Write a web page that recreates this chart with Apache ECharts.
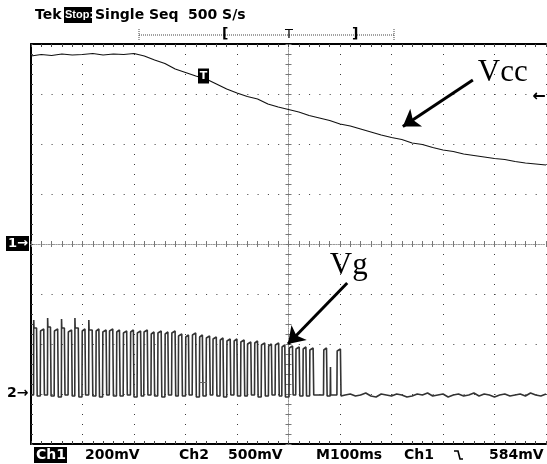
<!DOCTYPE html>
<html><head><meta charset="utf-8">
<script src="https://cdn.jsdelivr.net/npm/echarts@6/dist/echarts.min.js"></script>
<style>html,body{margin:0;padding:0;background:#fff;}#c{width:547px;height:464px;}</style>
</head><body><div id="c"></div>
<script>
// ---- Ch1 (Vcc), time in ms relative to screen centre, value in mV relative to Ch1 ground ----
const vccTime = [-500,-480,-460,-440,-420,-400,-380,-360,-340,-320,-300,-280,-260,-240,-220,-200,-180,-160,-140,-120,-100,-80,-60,-40,-20,0,20,40,60,80,100,120,140,160,180,200,220,240,260,280,300,320,340,360,380,400,420,440,460,480,500];
const vccMv   = [752,758,754,760,756,758,762,756,760,758,762,752,736,722,700,686,672,660,640,620,604,590,580,560,548,538,528,514,504,494,480,472,460,448,436,426,418,404,398,386,376,370,360,354,348,342,338,330,324,320,316];

// ---- Ch2 (Vg) gate pulses: rising time, falling time, top level, overshoot, low level after (mV) ----
const pulseOn    = [-495,-482,-468,-455,-441,-428,-415,-401,-388,-374,-361,-348,-334,-321,-307,-294,-281,-267,-254,-240,-227,-214,-200,-187,-173,-160,-147,-133,-120,-106,-93,-80,-66,-53,-39,-26,-13,1,14,28,41,68,81,94];
const pulseOff   = [-488,-474,-461,-447,-434,-420,-407,-394,-380,-367,-353,-340,-327,-313,-300,-286,-273,-260,-246,-233,-219,-206,-193,-179,-166,-152,-139,-126,-112,-99,-85,-72,-59,-45,-32,-18,-6,9,22,35,49,75,82,102];
const pulseTop   = [660,650,670,650,660,640,660,650,640,650,640,650,640,630,640,630,640,620,630,620,630,600,590,610,590,580,570,560,550,550,540,520,530,510,500,510,490,480,470,470,460,460,290,450];
const pulseSpike = [740,null,760,null,750,null,760,null,740,null,null,null,null,null,null,null,null,null,null,null,null,null,null,null,null,null,null,null,null,null,null,null,null,null,null,null,null,null,null,null,null,null,null,null];
const pulseLow   = [-20,-10,-20,-30,-10,-20,-30,-10,-20,-30,-10,-20,-20,-10,-30,-20,-10,-20,-30,-10,-20,-20,-10,-30,-20,-10,-20,-30,-10,-20,-20,-10,-30,-20,-10,-20,-30,-10,-20,-20,-10,-20,-10,-20];
const tailTime   = [110,120,130,140,150,160,170,180,190,200,210,220,230,240,250,260,270,280,290,300,310,320,330,340,350,360,370,380,390,400,410,420,430,440,450,460,470,480,490,500];
const tailMv     = [-10,0,-20,-10,10,-20,-30,0,-10,-20,0,-10,-30,-20,0,-10,10,-20,-10,0,-30,-10,0,-20,-10,10,-20,0,-10,-30,-10,0,-20,-10,0,-20,10,-10,-20,0];

// ---- annotations (data coordinates) ----
const vccArrow = [[358, 656], [222, 470]];
const vgArrow  = [[114, 1110], [-1, 500]];
const vccLabelAt = [416, 684];
const vgLabelAt  = [117, 1280];
const trigAt     = [-165, 672];
const trigLevelMv = 584;

const vcc = vccTime.map((t, i) => [t, vccMv[i]]);
const vg = [[-500, -10]];
for (let i = 0; i < pulseOn.length; i++) {
  const s = pulseOn[i], e = pulseOff[i], top = pulseTop[i];
  const prevLow = i === 0 ? -10 : pulseLow[i - 1];
  vg.push([s, prevLow]);
  if (pulseSpike[i] != null) { vg.push([s + 0.3, pulseSpike[i]]); vg.push([s + 0.8, top]); }
  else { vg.push([s + 0.5, top - 20]); vg.push([s + 1.2, top]); }
  vg.push([e - 1.2, top]);
  vg.push([e - 0.5, top - 20]);
  vg.push([e, pulseLow[i]]);
}
tailTime.forEach((t, i) => vg.push([t, tailMv[i]]));

const FONT = '"DejaVu Sans"';
const TXT = 'bold 14px ' + FONT;
function borderX(pos, split) {
  return {type: 'value', min: -500, max: 500, interval: 100, position: pos,
    axisLine: {show: true, onZero: false, lineStyle: {color: '#000', width: 2}},
    axisTick: {show: true, inside: true, length: 3, lineStyle: {color: '#444'}},
    minorTick: {show: true, splitNumber: 5, length: 3, lineStyle: {color: '#444'}},
    axisLabel: {show: false},
    splitLine: {show: split, lineStyle: {color: '#3a3a3a', width: 1, type: [1, 9]}}};
}
function centerX(pos) {
  return {type: 'value', min: -500, max: 500, interval: 100, position: pos,
    axisLine: {show: true, onZero: true, onZeroAxisIndex: 0, lineStyle: {color: '#999', width: 1, type: [1, 1.5]}},
    axisTick: {show: true, length: 3, lineStyle: {color: '#777'}},
    minorTick: {show: true, splitNumber: 5, length: 3, lineStyle: {color: '#777'}},
    axisLabel: {show: false}, splitLine: {show: false}};
}
function centerY(pos) {
  return {type: 'value', min: -4, max: 4, interval: 1, position: pos,
    axisLine: {show: true, onZero: true, onZeroAxisIndex: 0, lineStyle: {color: '#999', width: 1, type: [1, 1.5]}},
    axisTick: {show: true, length: 3, lineStyle: {color: '#777'}},
    minorTick: {show: true, splitNumber: 5, length: 3, lineStyle: {color: '#777'}},
    axisLabel: {show: false}, splitLine: {show: false}};
}

const chart = echarts.init(document.getElementById('c'), null, {renderer: 'canvas'});
chart.setOption({
  animation: false,
  backgroundColor: '#fff',
  grid: {left: 31, top: 44, width: 515, height: 400, outerBoundsMode: 'none', containLabel: false},
  xAxis: [borderX('bottom', true), borderX('top', false), centerX('bottom'), centerX('top')],
  yAxis: [
    {type: 'value', min: -800, max: 800, interval: 200, position: 'left',
      axisLine: {show: true, onZero: false, lineStyle: {color: '#000', width: 2}},
      axisTick: {show: true, inside: true, length: 2, lineStyle: {color: '#444'}},
      minorTick: {show: true, splitNumber: 5, length: 2, lineStyle: {color: '#444'}},
      axisLabel: {show: false},
      splitLine: {show: true, lineStyle: {color: '#3a3a3a', width: 1, type: [1, 9.3]}}},
    {type: 'value', min: -500, max: 3500, interval: 500, position: 'right',
      axisLine: {show: false, onZero: false},
      axisTick: {show: false}, axisLabel: {show: false}, splitLine: {show: false}},
    centerY('left'), centerY('right')
  ],
  series: [
    {name: 'Vcc', type: 'line', xAxisIndex: 0, yAxisIndex: 0, data: vcc, symbol: 'none',
      lineStyle: {color: '#111', width: 1.2},
      markLine: {silent: true, symbol: ['none', 'arrow'], symbolSize: 16,
        label: {show: false}, lineStyle: {color: '#000', width: 3, type: 'solid'},
        data: [[{coord: vccArrow[0]}, {coord: vccArrow[1]}]]},
      markPoint: {silent: true, data: [
        {coord: vccLabelAt, symbol: 'circle', symbolSize: 1, itemStyle: {color: 'rgba(0,0,0,0)'},
          label: {show: true, position: 'inside', formatter: 'Vcc', color: '#000', fontFamily: '"Liberation Serif"', fontSize: 31}},
        {coord: trigAt, symbol: 'rect', symbolSize: [11, 15], itemStyle: {color: '#000'},
          label: {show: true, position: 'inside', formatter: 'T', color: '#fff', fontFamily: FONT, fontWeight: 'bold', fontSize: 11}},
        {coord: [500, trigLevelMv], symbol: 'circle', symbolSize: 1, itemStyle: {color: 'rgba(0,0,0,0)'},
          label: {show: true, position: 'inside', offset: [-7, -1], formatter: '←', color: '#000', fontFamily: FONT, fontWeight: 'bold', fontSize: 16}}
      ]}},
    {name: 'Vg', type: 'line', xAxisIndex: 0, yAxisIndex: 1, data: vg, symbol: 'none',
      lineStyle: {color: '#333', width: 1.6},
      markLine: {silent: true, symbol: ['none', 'arrow'], symbolSize: 16,
        label: {show: false}, lineStyle: {color: '#000', width: 3, type: 'solid'},
        data: [[{coord: vgArrow[0]}, {coord: vgArrow[1]}]]},
      markPoint: {silent: true, data: [
        {coord: vgLabelAt, symbol: 'circle', symbolSize: 1, itemStyle: {color: 'rgba(0,0,0,0)'},
          label: {show: true, position: 'inside', formatter: 'Vg', color: '#000', fontFamily: '"Liberation Serif"', fontSize: 31}},
        {coord: [trigAt[0], 60], symbol: 'circle', symbolSize: 1, itemStyle: {color: 'rgba(0,0,0,0)'},
          label: {show: true, position: 'inside', formatter: 'T', color: '#666', fontFamily: FONT, fontSize: 12}}
      ]}}
  ],
  graphic: [
    {type: 'text', x: 35, y: 8, style: {text: 'Tek', font: TXT, fill: '#000'}},
    {type: 'rect', shape: {x: 64, y: 7, width: 28, height: 16}, style: {fill: '#000'}},
    {type: 'text', x: 65, y: 9, style: {text: 'Stop:', font: 'bold 11px "Liberation Sans"', fill: '#fff'}},
    {type: 'text', x: 95, y: 8, style: {text: 'Single Seq', font: TXT, fill: '#000'}},
    {type: 'text', x: 188, y: 8, style: {text: '500 S/s', font: TXT, fill: '#000'}},
    {type: 'line', shape: {x1: 139, y1: 35, x2: 394, y2: 35}, style: {stroke: '#444', lineWidth: 1, lineDash: [1, 1]}},
    {type: 'line', shape: {x1: 139, y1: 29, x2: 139, y2: 41}, style: {stroke: '#444', lineWidth: 1, lineDash: [1, 1]}},
    {type: 'line', shape: {x1: 394, y1: 29, x2: 394, y2: 41}, style: {stroke: '#444', lineWidth: 1, lineDash: [1, 1]}},
    {type: 'text', x: 222, y: 27, style: {text: '[', font: 'bold 14px ' + FONT, fill: '#000'}},
    {type: 'text', x: 285, y: 28, style: {text: 'T', font: '13px ' + FONT, fill: '#000'}},
    {type: 'text', x: 352, y: 27, style: {text: ']', font: 'bold 14px ' + FONT, fill: '#000'}},
    {type: 'rect', shape: {x: 6, y: 236, width: 23, height: 15}, style: {fill: '#000'}},
    {type: 'text', x: 8, y: 237, style: {text: '1→', font: 'bold 13px ' + FONT, fill: '#fff'}},
    {type: 'text', x: 7, y: 386, style: {text: '2→', font: 'bold 14px ' + FONT, fill: '#000'}},
    {type: 'rect', shape: {x: 34, y: 447, width: 33, height: 16}, style: {fill: '#000'}},
    {type: 'text', x: 36, y: 448, style: {text: 'Ch1', font: TXT, fill: '#fff'}},
    {type: 'text', x: 85, y: 448, style: {text: '200mV', font: TXT, fill: '#000'}},
    {type: 'text', x: 179, y: 448, style: {text: 'Ch2', font: TXT, fill: '#000'}},
    {type: 'text', x: 228, y: 448, style: {text: '500mV', font: TXT, fill: '#000'}},
    {type: 'text', x: 316, y: 448, style: {text: 'M100ms', font: TXT, fill: '#000'}},
    {type: 'text', x: 404, y: 448, style: {text: 'Ch1', font: TXT, fill: '#000'}},
    {type: 'polyline', shape: {points: [[454, 451], [458, 451], [460, 459], [463, 459]]}, style: {stroke: '#000', lineWidth: 1.6, fill: null}},
    {type: 'text', x: 489, y: 448, style: {text: '584mV', font: TXT, fill: '#000'}}
  ]
});
</script></body></html>
